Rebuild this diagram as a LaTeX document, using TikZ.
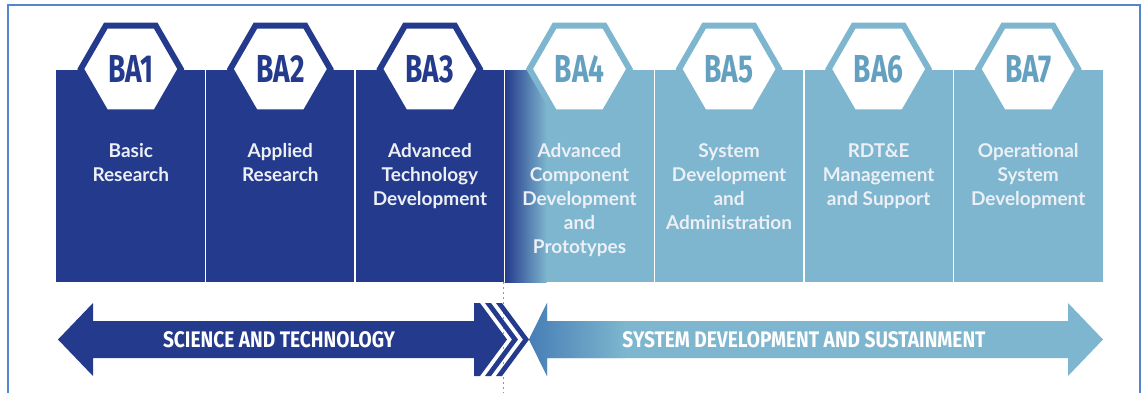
\documentclass[tikz,border=0pt]{standalone}
\usepackage{fontspec}
\setmainfont{Lato}
\newfontfamily\hexfont[FakeStretch=0.72]{Fira Sans}
\newfontfamily\arrowfont[FakeStretch=0.85]{Fira Sans}
\definecolor{dkblue}{RGB}{36,58,140}
\definecolor{ltblue}{RGB}{125,182,206}
\definecolor{lttext}{RGB}{100,160,192}
\definecolor{midblue}{RGB}{70,125,182}
\definecolor{frameblue}{RGB}{84,134,208}
\definecolor{dotgray}{RGB}{150,150,150}
\definecolor{coltxt}{RGB}{236,240,246}
\begin{document}
\begin{tikzpicture}[x=1pt,y=-1pt,
  colbox/.style={anchor=north west, minimum width=149.57pt, minimum height=212pt, inner sep=0pt, outer sep=0pt, draw=none},
  hexline/.style={line width=6pt, fill=white, line join=miter},
  hexlabel/.style={font=\hexfont\bfseries\fontsize{39}{39}\selectfont, inner sep=0pt},
  coltext/.style={anchor=north, align=center, text=coltxt, font=\bfseries\fontsize{19}{24}\selectfont, inner sep=0pt},
  arrowtext/.style={text=white, font=\arrowfont\bfseries\fontsize{22.5}{22.5}\selectfont, inner sep=0pt},
  divider/.style={white, line width=1.3pt},
  dotline/.style={dotgray, line width=0.8pt, dash pattern=on 2pt off 3pt}
]
\useasboundingbox (0,0) rectangle (1148,392);
% frame
\draw[frameblue, line width=2pt] (8,400) -- (8,5) -- (1140,5) -- (1140,400);

% columns
\foreach \i/\c in {1/dkblue,2/dkblue,3/dkblue,4/ltblue,5/ltblue,6/ltblue,7/ltblue}{
  \node[colbox, fill=\c] (col\i) at ({56+149.57*(\i-1)},70) {};
}
\shade[left color=dkblue, right color=ltblue] (col4.north west) rectangle ([xshift=42pt]col4.south west);
\foreach \i in {1,...,6}{
  \draw[divider] (col\i.north east) -- (col\i.south east);
}

% hexagons
\foreach \i/\c/\t in {1/dkblue/dkblue,2/dkblue/dkblue,3/dkblue/dkblue,4/ltblue/lttext,5/ltblue/lttext,6/ltblue/lttext,7/ltblue/lttext}{
  \coordinate (hc\i) at ({56+149.57*(\i-0.5)},69);
  \draw[hexline, draw=\c] ([xshift=-50pt]hc\i) -- ++(25,-43.3) -- ++(50,0) -- ++(25,43.3) -- ++(-25,43.3) -- ++(-50,0) -- cycle;
  \node[hexlabel, text=\t] (hex\i) at (hc\i) {BA\i};
}

% column texts
\node[coltext] (lab1) at ([yshift=-73pt]col1.north) {Basic\\Research};
\node[coltext] (lab2) at ([yshift=-73pt]col2.north) {Applied\\Research};
\node[coltext] (lab3) at ([yshift=-73pt]col3.north) {Advanced\\Technology\\Development};
\node[coltext] (lab4) at ([yshift=-73pt]col4.north) {Advanced\\Component\\Development\\and\\Prototypes};
\node[coltext] (lab5) at ([yshift=-73pt]col5.north) {System\\Development\\and\\Administration};
\node[coltext] (lab6) at ([yshift=-73pt]col6.north) {RDT\&E\\Management\\and Support};
\node[coltext] (lab7) at ([yshift=-73pt]col7.north) {Operational\\System\\Development};

% dotted divider
\coordinate (dtop) at ([xshift=-1pt]col4.south west);
\coordinate (dbot) at ([yshift=-112pt]dtop);
\draw[dotline] (dtop) -- (dbot);

% light arrow
\begin{scope}
\clip (529,339.5) -- (547,303) -- (547,321) -- (1068,321) -- (1068,303) -- (1103,339.5) -- (1068,376) -- (1068,358) -- (547,358) -- (547,376) -- cycle;
\fill[ltblue] (520,300) rectangle (1110,380);
\shade[left color=midblue, right color=ltblue] (527,300) rectangle (625,380);
\end{scope}

% dark arrow with chevrons
\fill[dkblue] (58,339.5) -- (93,303) -- (93,321) -- (474,321) -- (474,303) -- (480,303) -- (507,339.5) -- (480,376) -- (474,376) -- (474,358) -- (93,358) -- (93,376) -- cycle;
\fill[dkblue] (485,303) -- (491,303) -- (518,339.5) -- (491,376) -- (485,376) -- (512,339.5) -- cycle;
\fill[dkblue] (496,303) -- (502,303) -- (529,339.5) -- (502,376) -- (496,376) -- (523,339.5) -- cycle;

\node[arrowtext] (st) at (279,340) {SCIENCE AND TECHNOLOGY};
\node[arrowtext] (sds) at (804,340) {SYSTEM DEVELOPMENT AND SUSTAINMENT};
\end{tikzpicture}
\end{document}
